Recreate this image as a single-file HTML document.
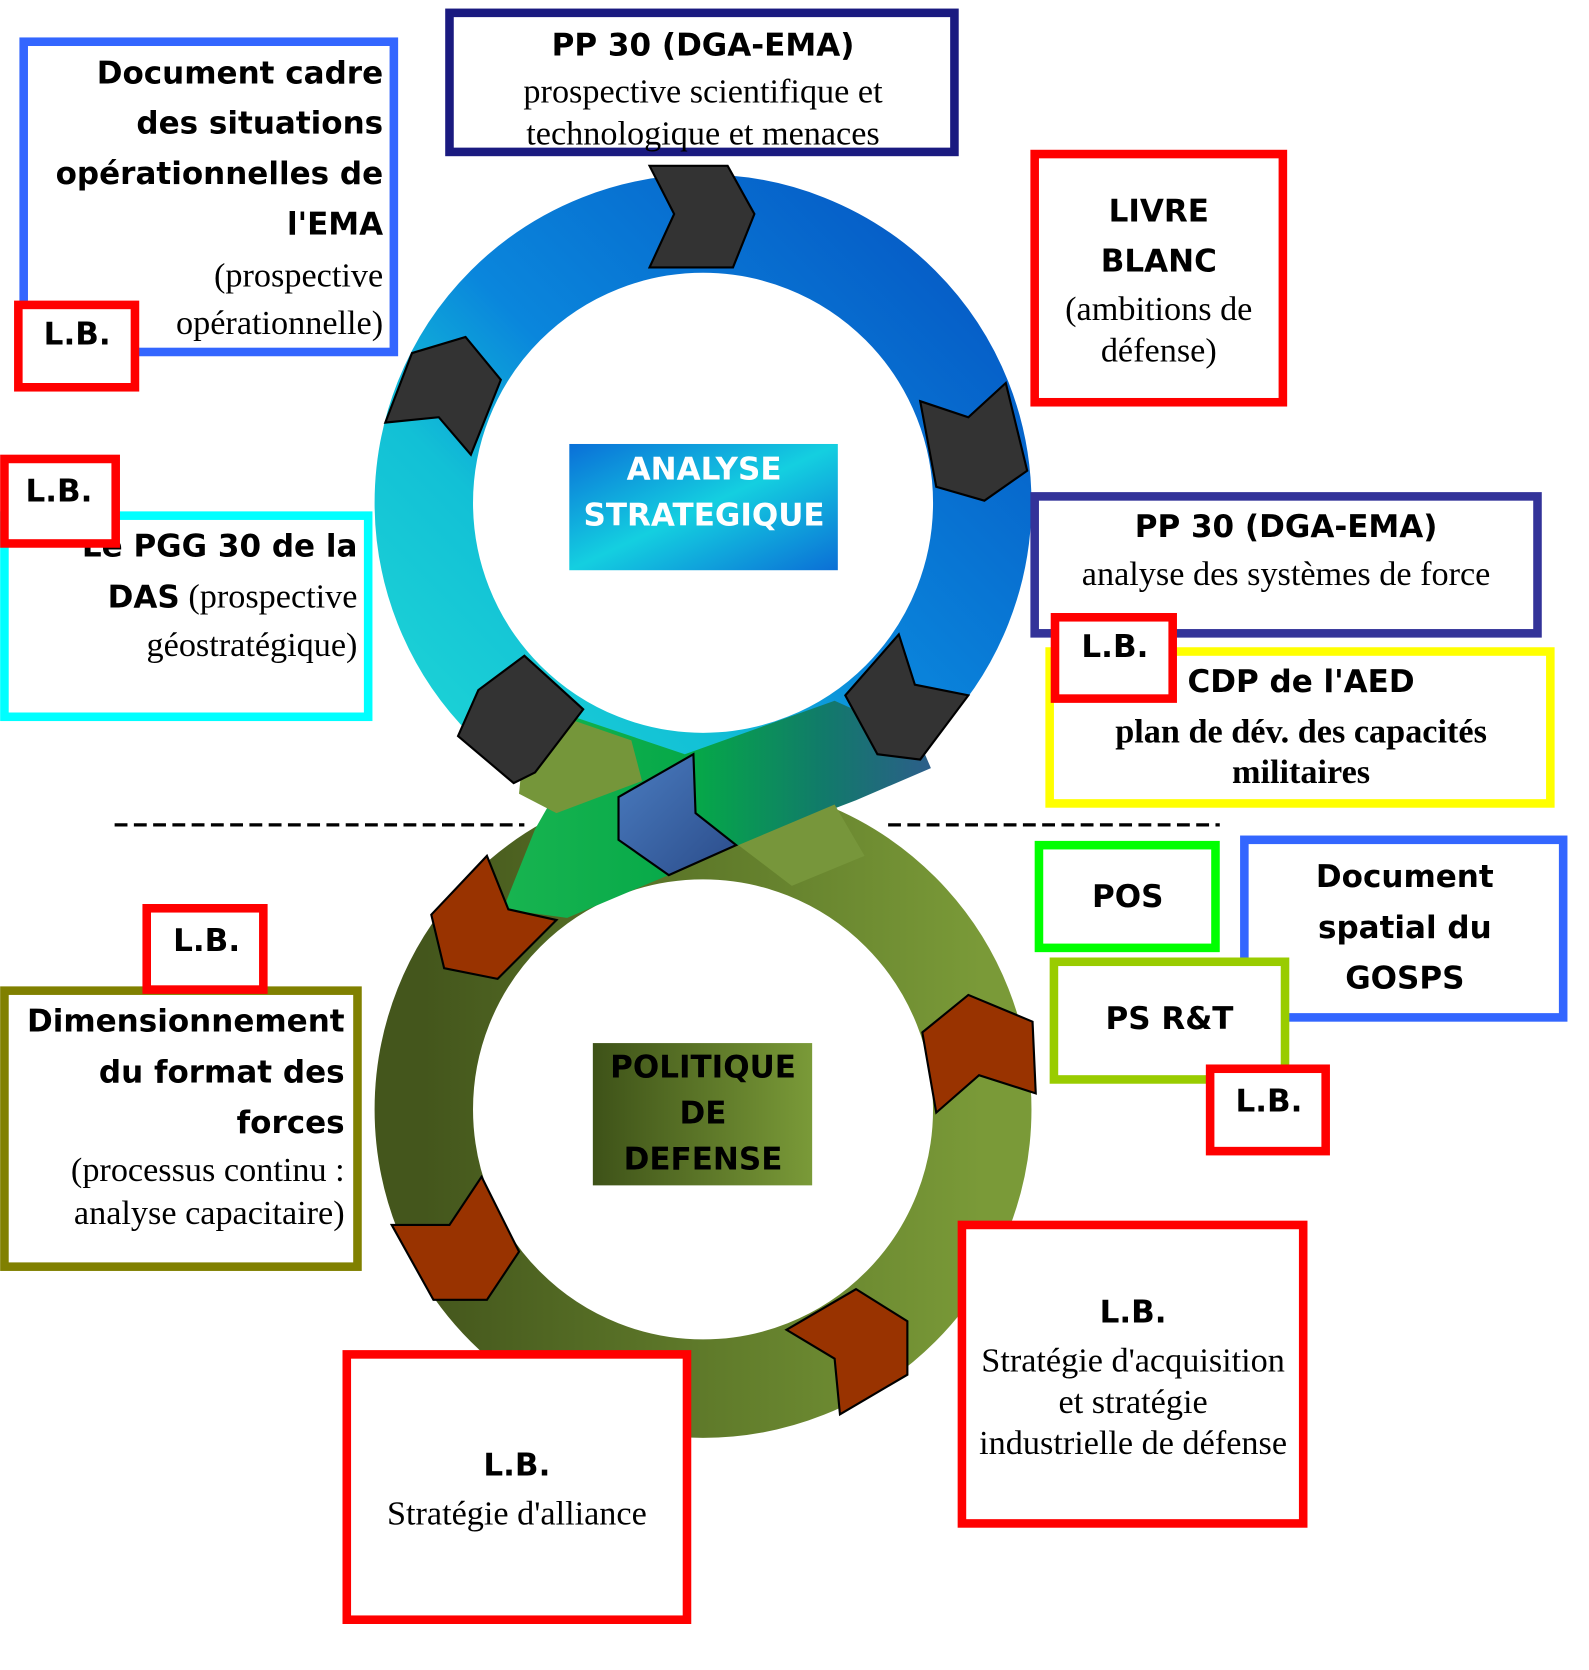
<!DOCTYPE html>
<html><head><meta charset="utf-8"><style>
html,body{margin:0;padding:0;background:#fff;}
svg{display:block;}
.b{font-family:"DejaVu Sans","Liberation Sans",sans-serif;font-weight:bold;font-size:29px;fill:#000;}
.s{font-family:"Liberation Serif",serif;font-size:32px;fill:#000;}
.sb{font-family:"Liberation Serif",serif;font-size:32px;font-weight:bold;fill:#000;}
</style></head><body>
<svg width="1589" height="1670" viewBox="0 0 1485 1561" xmlns="http://www.w3.org/2000/svg">
<defs>
<linearGradient id="gt" x1="0" y1="1" x2="1" y2="0">
<stop offset="0" stop-color="#1ed6d6"/><stop offset="0.3" stop-color="#12c0d6"/><stop offset="0.5" stop-color="#0a86dc"/><stop offset="1" stop-color="#0557c4"/></linearGradient>
<linearGradient id="gb" x1="0" y1="0" x2="1" y2="0">
<stop offset="0" stop-color="#44561c"/><stop offset="0.5" stop-color="#5f7a2a"/><stop offset="1" stop-color="#7a9a38"/></linearGradient>
<linearGradient id="gx" x1="0" y1="0" x2="1" y2="0">
<stop offset="0" stop-color="#18b450"/><stop offset="0.45" stop-color="#05a848"/><stop offset="0.75" stop-color="#117a6a"/><stop offset="1" stop-color="#2c5e8a"/></linearGradient>
<linearGradient id="ga" x1="0" y1="0" x2="1" y2="1">
<stop offset="0" stop-color="#0a6fd8"/><stop offset="0.5" stop-color="#14cfe0"/><stop offset="1" stop-color="#0b6fd6"/></linearGradient>
<linearGradient id="gp" x1="0" y1="0" x2="1" y2="0">
<stop offset="0" stop-color="#3e5218"/><stop offset="1" stop-color="#7a9a38"/></linearGradient>
<linearGradient id="gc" x1="0" y1="0" x2="1" y2="1">
<stop offset="0" stop-color="#4a7cc0"/><stop offset="1" stop-color="#2b4c8a"/></linearGradient>
</defs>
<circle cx="657" cy="470" r="261" fill="none" stroke="url(#gt)" stroke-width="92"/>
<circle cx="657" cy="1037" r="261" fill="none" stroke="url(#gb)" stroke-width="92"/>
<path d="M530,668 L640,705 L780,655 L858,690 L870,718 L800,748 L690,790 L620,820 L530,858 L470,850 L500,775 L520,740 Z" fill="url(#gx)"/>
<path d="M490,690 L520,668 L590,692 L600,730 L560,745 L520,760 L485,742 Z" fill="#75963a"/>
<path d="M690,790 L780,752 L808,800 L740,828 Z" fill="#77963b"/>
<g fill="#333" stroke="#000" stroke-width="2">
<polygon points="607,155 680,155 705,200 685,250 607,250 630,200"/>
<polygon points="360,395 385,330 435,315 468,355 440,425 410,390"/>
<polygon points="860,375 905,390 940,358 960,440 920,468 875,455"/>
<polygon points="428,688 447,645 490,613 545,663 500,722 480,732"/>
<polygon points="790,650 840,593 855,640 905,650 860,710 820,705"/>
</g>
<polygon points="578,745 648,705 650,760 688,790 625,818 578,785" fill="url(#gc)" stroke="#000" stroke-width="2"/>
<g fill="#993300" stroke="#000" stroke-width="2">
<polygon points="403,855 455,800 475,850 520,860 465,915 415,905"/>
<polygon points="862,965 905,930 965,955 968,1022 915,1005 875,1040"/>
<polygon points="366,1145 420,1145 450,1100 485,1170 455,1215 405,1215"/>
<polygon points="735,1243 800,1205 848,1235 848,1285 785,1322 780,1270"/>
</g>
<line x1="107" y1="771" x2="490" y2="771" stroke="#000" stroke-width="3" stroke-dasharray="12,6"/>
<line x1="830" y1="771" x2="1140" y2="771" stroke="#000" stroke-width="3" stroke-dasharray="12,6"/>
<rect x="532" y="415" width="251" height="118" fill="url(#ga)"/>
<text class="b" x="658" y="448" text-anchor="middle" style="fill:#fff">ANALYSE</text>
<text class="b" x="658" y="491" text-anchor="middle" style="fill:#fff">STRATEGIQUE</text>
<rect x="554" y="975" width="205" height="133" fill="url(#gp)"/>
<text class="b" x="657" y="1007" text-anchor="middle">POLITIQUE</text>
<text class="b" x="657" y="1050" text-anchor="middle">DE</text>
<text class="b" x="657" y="1093" text-anchor="middle">DEFENSE</text>
<g fill="#fff" stroke-width="8">
<rect x="22" y="39" width="346" height="290" stroke="#3366ff"/>
<rect x="420" y="12" width="472" height="130" stroke="#1a1a80"/>
<rect x="967" y="144" width="232" height="232" stroke="#ff0000"/>
<rect x="4" y="482" width="340" height="188" stroke="#00ffff"/>
<rect x="967" y="464" width="470" height="128" stroke="#333399"/>
<rect x="981" y="609" width="468" height="142" stroke="#ffff00"/>
<rect x="1163" y="785" width="298" height="166" stroke="#3366ff"/>
<rect x="971" y="790" width="165" height="96" stroke="#00ff00"/>
<rect x="985" y="899" width="216" height="110" stroke="#99cc00"/>
<rect x="4" y="926" width="330" height="258" stroke="#808000"/>
<rect x="899" y="1145" width="319" height="279" stroke="#ff0000"/>
<rect x="324" y="1266" width="318" height="248" stroke="#ff0000"/>
</g>
<text class="b" x="358" y="78" text-anchor="end">Document cadre</text>
<text class="b" x="358" y="125" text-anchor="end">des situations</text>
<text class="b" x="358" y="172" text-anchor="end">opérationnelles  de</text>
<text class="b" x="358" y="219" text-anchor="end">l'EMA</text>
<text class="s" x="358" y="268" text-anchor="end">(prospective</text>
<text class="s" x="358" y="312" text-anchor="end">opérationnelle)</text>
<text class="b" x="657" y="52" text-anchor="middle">PP 30 (DGA-EMA)</text>
<text class="s" x="657" y="96" text-anchor="middle">prospective scientifique et</text>
<text class="s" x="657" y="135" text-anchor="middle">technologique et menaces</text>
<text class="b" x="1083" y="207" text-anchor="middle">LIVRE</text>
<text class="b" x="1083" y="254" text-anchor="middle">BLANC</text>
<text class="s" x="1083" y="299" text-anchor="middle">(ambitions de</text>
<text class="s" x="1083" y="338" text-anchor="middle">défense)</text>
<text class="b" x="334" y="520" text-anchor="end">Le PGG 30 de la</text>
<text x="334" y="568" text-anchor="end"><tspan class="b">DAS</tspan><tspan class="s"> (prospective</tspan></text>
<text class="s" x="334" y="613" text-anchor="end">géostratégique)</text>
<text class="b" x="1202" y="502" text-anchor="middle">PP 30 (DGA-EMA)</text>
<text class="s" x="1202" y="547" text-anchor="middle">analyse des systèmes de force</text>
<text class="b" x="1216" y="647" text-anchor="middle">CDP de l'AED</text>
<text class="sb" x="1216" y="694" text-anchor="middle">plan de dév. des capacités</text>
<text class="sb" x="1216" y="732" text-anchor="middle">militaires</text>
<text class="b" x="1054" y="848" text-anchor="middle">POS</text>
<text class="b" x="1313" y="829" text-anchor="middle">Document</text>
<text class="b" x="1313" y="877" text-anchor="middle">spatial du</text>
<text class="b" x="1313" y="924" text-anchor="middle">GOSPS</text>
<text class="b" x="1093" y="962" text-anchor="middle">PS R&amp;T</text>
<text class="b" x="322" y="964" text-anchor="end">Dimensionnement</text>
<text class="b" x="322" y="1012" text-anchor="end">du format des</text>
<text class="b" x="322" y="1059" text-anchor="end">forces</text>
<text class="s" x="322" y="1104" text-anchor="end">(processus continu :</text>
<text class="s" x="322" y="1144" text-anchor="end">analyse capacitaire)</text>
<text class="b" x="1059" y="1236" text-anchor="middle">L.B.</text>
<text class="s" x="1059" y="1282" text-anchor="middle">Stratégie d'acquisition</text>
<text class="s" x="1059" y="1321" text-anchor="middle">et stratégie</text>
<text class="s" x="1059" y="1359" text-anchor="middle">industrielle de défense</text>
<text class="b" x="483" y="1379" text-anchor="middle">L.B.</text>
<text class="s" x="483" y="1425" text-anchor="middle">Stratégie d'alliance</text>
<g fill="#fff" stroke="#ff0000" stroke-width="8">
<rect x="17" y="285" width="109" height="77"/>
<rect x="4" y="429" width="104" height="79"/>
<rect x="986" y="577" width="110" height="76"/>
<rect x="1131" y="999" width="108" height="77"/>
<rect x="137" y="849" width="109" height="76"/>
</g>
<text class="b" x="72" y="322" text-anchor="middle">L.B.</text>
<text class="b" x="55" y="469" text-anchor="middle">L.B.</text>
<text class="b" x="1042" y="614" text-anchor="middle">L.B.</text>
<text class="b" x="1186" y="1039" text-anchor="middle">L.B.</text>
<text class="b" x="193" y="889" text-anchor="middle">L.B.</text>
</svg>
</body></html>
